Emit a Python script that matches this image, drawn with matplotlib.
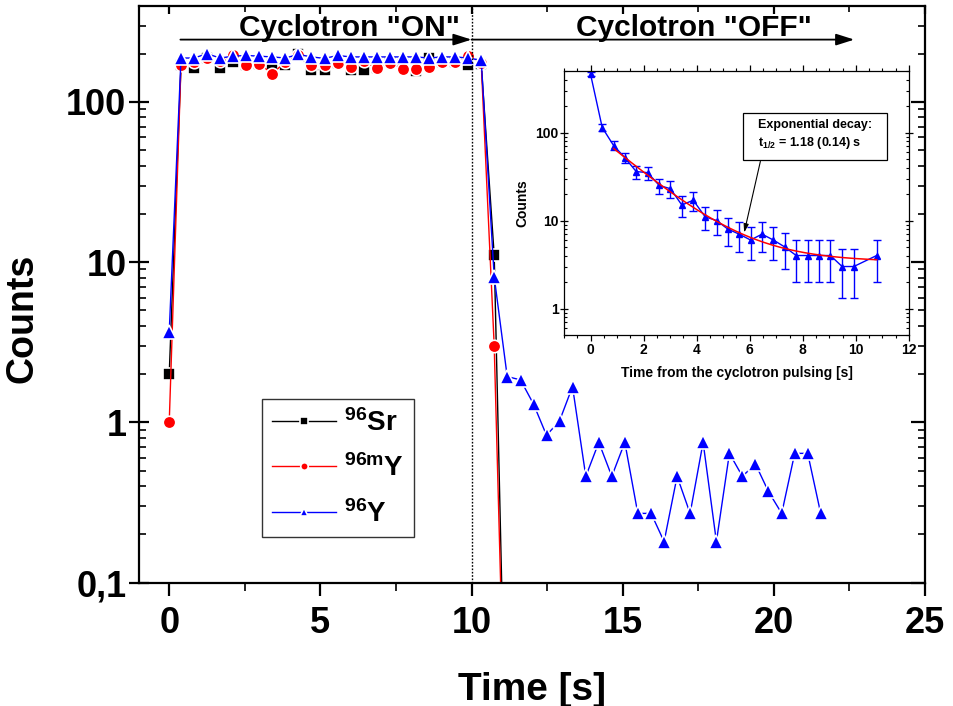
import matplotlib
matplotlib.use("Agg")
import numpy as np
import matplotlib.pyplot as plt
from matplotlib.patches import Rectangle
from matplotlib.ticker import FixedLocator, FuncFormatter, LogLocator, NullFormatter, MultipleLocator

plt.rcParams["font.family"] = ["Liberation Sans", "DejaVu Sans"]
plt.rcParams["font.weight"] = "bold"
plt.rcParams["mathtext.default"] = "regular"

# ---------------------------------------------------------------- main data
time_s = [0.0, 0.39, 0.82, 1.25, 1.68, 2.11, 2.55, 2.98, 3.41, 3.84, 4.27,
          4.70, 5.14, 5.57, 6.00, 6.43, 6.86, 7.30, 7.73, 8.16, 8.59, 9.02,
          9.46, 9.89, 10.32, 10.75, 11.18, 11.62, 12.05, 12.48, 12.91, 13.34,
          13.78, 14.21, 14.64, 15.07, 15.50, 15.94, 16.37, 16.80, 17.23,
          17.66, 18.10, 18.53, 18.96, 19.39, 19.82, 20.26, 20.69, 21.12, 21.55]

sr96 = [2.0, 171, 163, 188, 163, 177, 171, 173, 173, 171, 198, 159, 159, 175,
        159, 159, 163, 177, 173, 155, 188, 177, 177, 171, 173, 11.0, 0.003]
y96m = [1.0, 171, 178, 188, 180, 196, 169, 173, 150, 178, 196, 171, 169, 175,
        166, 180, 162, 175, 161, 160, 166, 177, 177, 193, 176, 3.0, 0.003]
y96 = [3.66, 188, 188, 200, 188, 193, 195, 193, 191, 188, 198, 191, 187, 195,
       191, 191, 191, 191, 191, 191, 188, 191, 191, 188, 182, 8.1,
       1.93, 1.84, 1.30, 0.83, 1.02, 1.67, 0.46, 0.75, 0.46, 0.75, 0.27, 0.27,
       0.18, 0.46, 0.27, 0.75, 0.18, 0.64, 0.46, 0.55, 0.37, 0.27, 0.64, 0.64,
       0.27]

x_ticks = [0, 5, 10, 15, 20, 25]
y_ticks = [0.1, 1, 10, 100]
y_tick_labels = ["0,1", "1", "10", "100"]

beam_switch_s = 10.0
on_arrow = (0.37, 10.0)
off_arrow = (10.0, 22.66)

# ---------------------------------------------------------------- inset data
pulse_time_s = [0.0, 0.44, 0.87, 1.29, 1.72, 2.15, 2.59, 3.01, 3.44, 3.87,
                4.32, 4.75, 5.17, 5.60, 6.03, 6.46, 6.89, 7.32, 7.75, 8.19,
                8.61, 9.04, 9.48, 9.92, 10.78]
pulse_counts = [460, 114, 71, 52, 36, 35, 25, 23, 15, 17, 11, 10, 8, 7, 6, 7,
                6, 5, 4, 4, 4, 4, 3, 3, 4]
pulse_err = [21, 10.7, 8.4, 7.2, 6.0, 5.9, 5.0, 4.8, 3.9, 4.1, 3.3, 3.2, 2.8,
             2.6, 2.4, 2.6, 2.4, 2.2, 2.0, 2.0, 2.0, 2.0, 1.7, 1.7, 2.0]

T_HALF = 1.18
FIT_AMPLITUDE = 104.0
FIT_OFFSET = 3.4
fit_range = (0.87, 10.78)

# ---------------------------------------------------------------- figure
fig = plt.figure(figsize=(9.54, 7.06), dpi=100)
ax = fig.add_axes([139 / 954, 1 - 582.5 / 706, 786 / 954, 577 / 706])

mk_edge = dict(markeredgecolor="white", markeredgewidth=1.2)
ax.plot(time_s[:len(sr96)], sr96, "-", color="black", lw=1.0, marker="s",
        ms=8.5, markerfacecolor="black", label=r"$^{96}$Sr", **mk_edge)
ax.plot(time_s[:len(y96m)], y96m, "-", color="red", lw=1.0, marker="o",
        ms=9.0, markerfacecolor="red", label=r"$^{96m}$Y", **mk_edge)
ax.plot(time_s[:len(y96)], y96, "-", color="blue", lw=1.0, marker="^",
        ms=10, markerfacecolor="blue", label=r"$^{96}$Y", **mk_edge)

ax.axvline(beam_switch_s, color="black", lw=1.0, ls=(0, (1.2, 1.2)))

ax.set_yscale("log")
ax.set_xlim(-1, 25)
ax.set_ylim(0.1, 400)

ax.xaxis.set_major_locator(FixedLocator(x_ticks))
ax.xaxis.set_minor_locator(MultipleLocator(2.5))
ax.yaxis.set_major_locator(FixedLocator(y_ticks))
ax.yaxis.set_major_formatter(FuncFormatter(
    lambda v, p: dict(zip(y_ticks, y_tick_labels)).get(round(v, 3), "")))
ax.yaxis.set_minor_locator(LogLocator(base=10, subs=np.arange(2, 10)))
ax.yaxis.set_minor_formatter(NullFormatter())

for s in ax.spines.values():
    s.set_linewidth(1.6)
ax.tick_params(axis="x", which="major", direction="out", length=9, width=1.6,
               labelsize=26, pad=8, top=False)
ax.tick_params(axis="x", which="minor", direction="out", length=6, width=1.2,
               top=False)
ax.tick_params(axis="y", which="major", direction="inout", length=14,
               width=1.6, labelsize=26, pad=2, right=False)
ax.tick_params(axis="y", which="minor", direction="in", length=5, width=1.2,
               right=False)
for lab in ax.get_xticklabels() + ax.get_yticklabels():
    lab.set_fontweight("bold")

ax.set_xlabel("Time [s]", fontsize=28, fontweight="bold", labelpad=22)
ax.set_ylabel("Counts", fontsize=27, fontweight="bold")
ax.yaxis.set_label_coords(-0.125, 0.458)

# mirrored ticks on the top and right spines, pointing inwards
axr = ax.twinx()
axr.set_yscale("log")
axr.set_ylim(ax.get_ylim())
axr.yaxis.set_major_locator(FixedLocator(y_ticks))
axr.yaxis.set_minor_locator(LogLocator(base=10, subs=np.arange(2, 10)))
axr.tick_params(axis="y", which="major", direction="in", length=10, width=1.6,
                labelright=False)
axr.tick_params(axis="y", which="minor", direction="in", length=5, width=1.2,
                labelright=False)
axt = ax.twiny()
axt.set_xlim(ax.get_xlim())
axt.xaxis.set_major_locator(FixedLocator(x_ticks))
axt.xaxis.set_minor_locator(MultipleLocator(2.5))
axt.tick_params(axis="x", which="major", direction="in", length=6, width=1.6,
                labeltop=False)
axt.tick_params(axis="x", which="minor", direction="in", length=4, width=1.2,
                labeltop=False)
for a in (axr, axt):
    for s in a.spines.values():
        s.set_visible(False)

# beam on / off arrows
y_arrow = 245
arrow_kw = dict(arrowstyle="-|>,head_length=1.1,head_width=0.35",
                color="black", lw=1.3, shrinkA=0, shrinkB=0)
ax.annotate("", xy=(on_arrow[1], y_arrow), xytext=(on_arrow[0], y_arrow),
            arrowprops=arrow_kw)
ax.annotate("", xy=(off_arrow[1], y_arrow), xytext=(off_arrow[0], y_arrow),
            arrowprops=arrow_kw)
ax.text(5.96, 259, 'Cyclotron "ON"', fontsize=21.5, fontweight="bold",
        ha="center", va="baseline")
ax.text(17.36, 259, 'Cyclotron "OFF"', fontsize=21.5, fontweight="bold",
        ha="center", va="baseline")

leg = ax.legend(loc="upper left", bbox_to_anchor=(262 / 954, 1 - 399 / 706),
                bbox_transform=fig.transFigure, frameon=True, fancybox=False,
                edgecolor="black", prop={"size": 20, "weight": "bold"},
                handlelength=2.3, handletextpad=0.3, labelspacing=0.64,
                borderpad=0.35, borderaxespad=0, markerscale=0.6,
                numpoints=1)
leg.get_frame().set_linewidth(1.0)

# ---------------------------------------------------------------- inset
ins = fig.add_axes([564 / 954, 1 - 335 / 706, 345 / 954, 264 / 706])
ins.errorbar(pulse_time_s, pulse_counts, yerr=pulse_err, color="blue",
             lw=1.0, marker="^", ms=4.5, capsize=3, elinewidth=1.0,
             capthick=1.0, zorder=2)
fit_t = np.linspace(fit_range[0], fit_range[1], 200)
fit_y = FIT_OFFSET + FIT_AMPLITUDE * np.exp(-np.log(2) * fit_t / T_HALF)
ins.plot(fit_t, fit_y, color="red", lw=1.1, zorder=3)

ins.set_yscale("log")
ins.set_xlim(-1, 12)
ins.set_ylim(0.5, 500)
ins.xaxis.set_major_locator(MultipleLocator(2))
ins.xaxis.set_minor_locator(MultipleLocator(0.5))
ins.yaxis.set_major_locator(FixedLocator([1, 10, 100]))
ins.yaxis.set_major_formatter(FuncFormatter(lambda v, p: f"{v:g}"))
ins.yaxis.set_minor_locator(LogLocator(base=10, subs=np.arange(2, 10)))
ins.yaxis.set_minor_formatter(NullFormatter())
for s in ins.spines.values():
    s.set_linewidth(0.9)
ins.tick_params(axis="both", which="major", labelsize=10, width=0.9)
ins.tick_params(axis="x", which="major", direction="out", length=4,
                top=True, pad=2)
ins.tick_params(axis="x", which="minor", direction="out", length=2.5,
                top=True, width=0.8)
ins.tick_params(axis="y", which="major", direction="inout", length=6,
                right=True, pad=1)
ins.tick_params(axis="y", which="minor", direction="in", length=2.5,
                right=True, width=0.8)
for lab in ins.get_xticklabels() + ins.get_yticklabels():
    lab.set_fontweight("bold")
ins.set_xlabel("Time from the cyclotron pulsing [s]", fontsize=10,
               fontweight="bold", labelpad=6)
ins.set_ylabel("Counts", fontsize=10, fontweight="bold", labelpad=4)

ins.add_patch(Rectangle((5.75, 48.3), 11.17 - 5.75, 168 - 48.3,
                        facecolor="white", edgecolor="black", lw=0.9,
                        zorder=4))
ins.text(8.45, 112, "Exponential decay:", fontsize=9, fontweight="bold",
         ha="center", va="baseline", zorder=5)
ins.text(6.32, 70.7, r"t$_{1/2}$ = 1.18 (0.14) s", fontsize=9,
         fontweight="bold", ha="left", va="baseline", zorder=5)
ins.annotate("", xy=(5.79, 7.3), xytext=(6.40, 47),
             arrowprops=dict(arrowstyle="-|>,head_length=0.5,head_width=0.15",
                             color="black", lw=0.8, shrinkA=0, shrinkB=0),
             zorder=5)

fig.savefig("out.png", dpi=100)
